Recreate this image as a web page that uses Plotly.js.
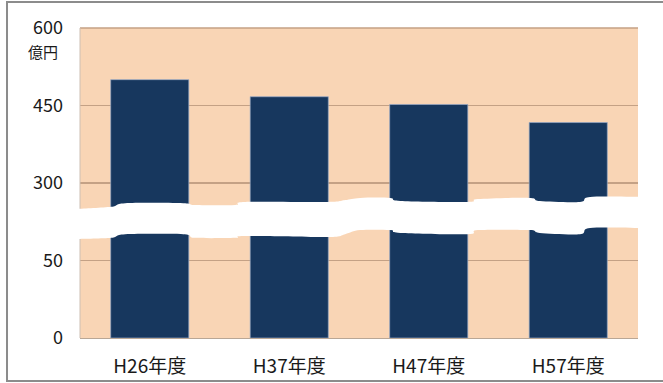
<!DOCTYPE html>
<html>
<head>
<meta charset="utf-8">
<script src="https://cdn.plot.ly/plotly-3.0.1.min.js"></script>
<style>
  html, body { margin: 0; padding: 0; background: #ffffff; }
  #chart { width: 663px; height: 383px; }
</style>
</head>
<body>
<div id="chart"></div>
<script>
// Fiscal years and amounts (億円)
const years = ['H26年度', 'H37年度', 'H47年度', 'H57年度'];
const amounts = [500, 467, 452, 417];

// Broken value axis: the 0–50 segment is stretched over 0–150 of the drawn
// scale, everything from 300 upward is drawn at its own value.
const tickPositions = [0, 150, 300, 450, 600];
const tickLabels = ['0', '50', '300', '450', '600'];

// Outline of the white break band (paper coordinates), upper edge left→right
const bandTop = [
  [-0.005, 0.416], [0.056, 0.423], [0.081, 0.435], [0.185, 0.435], [0.206, 0.429],
  [0.278, 0.429], [0.296, 0.439], [0.444, 0.439], [0.475, 0.445], [0.502, 0.452],
  [0.556, 0.452], [0.574, 0.442], [0.695, 0.439], [0.713, 0.448], [0.805, 0.452],
  [0.824, 0.442], [0.896, 0.439], [0.914, 0.455], [1.005, 0.455]
];
// lower edge left→right
const bandBottom = [
  [-0.005, 0.319], [0.056, 0.323], [0.081, 0.335], [0.185, 0.335], [0.206, 0.323],
  [0.278, 0.323], [0.296, 0.329], [0.444, 0.326], [0.475, 0.335], [0.502, 0.348],
  [0.556, 0.348], [0.574, 0.339], [0.695, 0.335], [0.713, 0.348], [0.805, 0.348],
  [0.824, 0.339], [0.896, 0.335], [0.914, 0.355], [1.005, 0.355]
];

// Catmull-Rom through the points, emitted as cubic segments
function smoothSegments(pts) {
  let d = '';
  const n = pts.length;
  for (let i = 0; i < n - 1; i++) {
    const p0 = pts[Math.max(i - 1, 0)], p1 = pts[i], p2 = pts[i + 1], p3 = pts[Math.min(i + 2, n - 1)];
    const c1x = p1[0] + (p2[0] - p0[0]) / 6, c1y = p1[1] + (p2[1] - p0[1]) / 6;
    const c2x = p2[0] - (p3[0] - p1[0]) / 6, c2y = p2[1] - (p3[1] - p1[1]) / 6;
    d += ` C ${c1x.toFixed(4)},${c1y.toFixed(4)} ${c2x.toFixed(4)},${c2y.toFixed(4)} ${p2[0].toFixed(4)},${p2[1].toFixed(4)}`;
  }
  return d;
}
const lowerRev = bandBottom.slice().reverse();
const bandPath = `M ${bandTop[0][0]},${bandTop[0][1]}` + smoothSegments(bandTop) +
  ` L ${lowerRev[0][0]},${lowerRev[0][1]}` + smoothSegments(lowerRev) + ' Z';

const FONT = '"Noto Sans CJK JP", "Noto Sans", sans-serif';
const GRID = '#C4A185';

const trace = {
  type: 'bar',
  x: years,
  y: amounts,
  marker: { color: '#17375E', line: { color: 'rgba(150,170,200,0.7)', width: 1 } },
  hoverinfo: 'x+y'
};

const layout = {
  width: 663,
  height: 383,
  margin: { l: 80, r: 25, t: 28, b: 45 },
  paper_bgcolor: '#ffffff',
  plot_bgcolor: '#F9D5B5',
  showlegend: false,
  bargap: 0.44,
  font: { family: FONT, color: '#1a1a1a' },
  xaxis: {
    type: 'category',
    showgrid: false,
    showline: true,
    linecolor: '#b9a796',
    linewidth: 1,
    ticks: '',
    tickfont: { size: 19, family: FONT, color: '#1a1a1a' },
    ticklabelstandoff: 11,
    fixedrange: true
  },
  yaxis: {
    range: [0, 600],
    tickmode: 'array',
    tickvals: tickPositions,
    ticktext: tickLabels,
    showgrid: true,
    gridcolor: GRID,
    gridwidth: 1.5,
    zeroline: false,
    showline: false,
    ticks: '',
    tickfont: { size: 18, family: FONT, color: '#1a1a1a' },
    ticklabelstandoff: 16,
    fixedrange: true
  },
  annotations: [
    {
      text: '億円',
      xref: 'paper', yref: 'paper',
      x: -0.036, y: 0.923,
      xanchor: 'right', yanchor: 'middle',
      showarrow: false,
      font: { size: 15, family: FONT, color: '#1a1a1a' }
    }
  ],
  shapes: [
    // top border of the plot area (level of the 600 gridline)
    {
      type: 'line',
      xref: 'paper', yref: 'paper',
      x0: 0, x1: 1, y0: 1, y1: 1,
      line: { color: GRID, width: 1.5 },
      layer: 'above'
    },
    // left edge of the plot area
    {
      type: 'line',
      xref: 'paper', yref: 'paper',
      x0: 0, x1: 0, y0: 0, y1: 1,
      line: { color: '#cdbfb3', width: 1 },
      layer: 'above'
    },
    // white wavy band marking the axis break
    {
      type: 'path',
      xref: 'paper', yref: 'paper',
      path: bandPath,
      fillcolor: '#ffffff',
      line: { width: 0 },
      layer: 'above'
    },
    // outer frame
    {
      type: 'path',
      xref: 'paper', yref: 'paper',
      path: 'M 1.06,1.084 L -0.1308,1.084 L -0.1308,-0.1387 L 1.06,-0.1387',
      line: { color: '#8c8c8c', width: 2 },
      layer: 'above'
    }
  ]
};

Plotly.newPlot('chart', [trace], layout, { displayModeBar: false, staticPlot: true });
</script>
</body>
</html>
